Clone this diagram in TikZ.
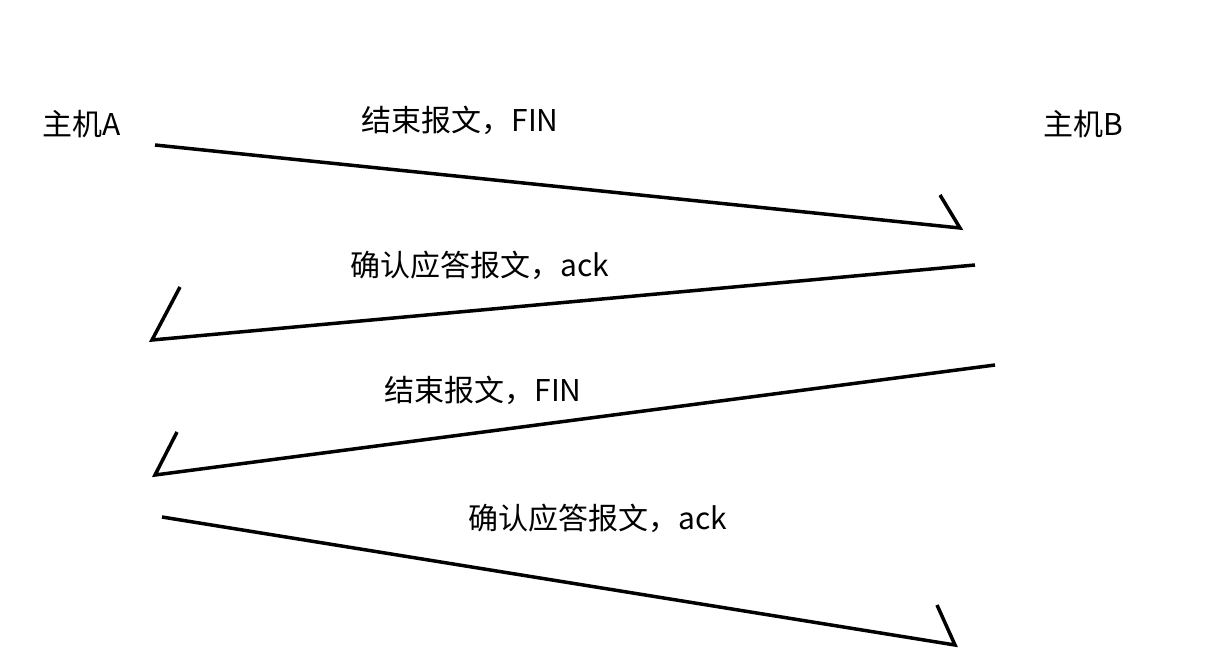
\documentclass[tikz,border=0pt]{standalone}
\usepackage{fontspec}
\newfontfamily\cjk{Noto Sans CJK SC}
\begin{document}
\begin{tikzpicture}[x=1pt,y=-1pt]
\tikzset{lbl/.style={font=\cjk\fontsize{30}{32}\selectfont,inner sep=0pt},
  msg/.style={line width=3.5pt}}
\useasboundingbox (0,0) rectangle (1213,663);
\node[lbl] (A) at (82,124) {主机A};
\node[lbl] (B) at (1083,124) {主机B};
\coordinate (a1) at (155,145); \coordinate (b1) at (960,228); \coordinate (h1) at (940,195);
\coordinate (b2) at (975,265); \coordinate (a2) at (152,340); \coordinate (h2) at (180,287);
\coordinate (b3) at (995,365); \coordinate (a3) at (155,475); \coordinate (h3) at (177,432);
\coordinate (a4) at (162,517); \coordinate (b4) at (955,645); \coordinate (h4) at (937,605);
\draw[msg] (a1) -- (b1) -- (h1);
\draw[msg] (b2) -- (a2) -- (h2);
\draw[msg] (b3) -- (a3) -- (h3);
\draw[msg] (a4) -- (b4) -- (h4);
\node[lbl] (l1) at (460,120) {结束报文，FIN};
\node[lbl] (l2) at (480,265) {确认应答报文，ack};
\node[lbl] (l3) at (483,390) {结束报文，FIN};
\node[lbl] (l4) at (598,518) {确认应答报文，ack};
\end{tikzpicture}
\end{document}
